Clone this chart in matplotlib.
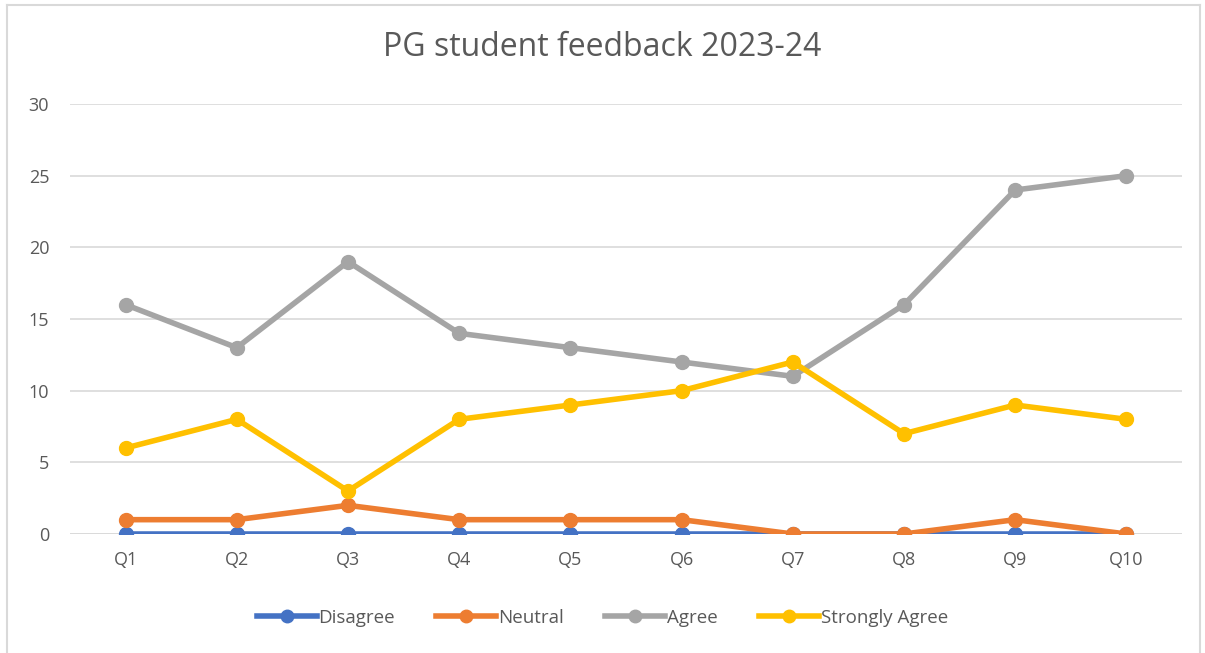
import matplotlib.pyplot as plt
from matplotlib.lines import Line2D

categories = ["Q1", "Q2", "Q3", "Q4", "Q5", "Q6", "Q7", "Q8", "Q9", "Q10"]
disagree = [0, 0, 0, 0, 0, 0, 0, 0, 0, 0]
neutral = [1, 1, 2, 1, 1, 1, 0, 0, 1, 0]
agree = [16, 13, 19, 14, 13, 12, 11, 16, 24, 25]
strongly_agree = [6, 8, 3, 8, 9, 10, 12, 7, 9, 8]
series_names = ["Disagree", "Neutral", "Agree", "Strongly Agree"]
colors = ["#4472C4", "#ED7D31", "#A5A5A5", "#FFC000"]
yticks = [0, 5, 10, 15, 20, 25, 30]

plt.rcParams['font.family'] = ['Open Sans', 'DejaVu Sans']
W, H = 1205, 653
fig = plt.figure(figsize=(W / 100, H / 100), dpi=100)
ax = fig.add_axes([70 / W, 1 - 534 / H, (1182 - 70) / W, (534 - 104) / H])

x = list(range(len(categories)))
handles = []
for vals, name, c in zip([disagree, neutral, agree, strongly_agree], series_names, colors):
    ax.plot(x, vals, color=c, lw=4, marker='o', ms=10, solid_capstyle='round', zorder=3)
    handles.append(Line2D([0], [0], color=c, lw=4, marker='o', ms=9))

ax.set_xlim(-0.5, len(categories) - 0.5)
ax.set_ylim(0, 30)
ax.set_yticks(yticks)
ax.set_xticks(x)
ax.set_xticklabels(categories)
ax.tick_params(axis='both', length=0, labelsize=13, labelcolor='#595959')
ax.tick_params(axis='x', pad=12)
ax.tick_params(axis='y', pad=15)
ax.grid(axis='y', color='#D9D9D9', lw=1.2, zorder=0)
for s in ax.spines.values():
    s.set_visible(False)
ax.axhline(0, color='#D9D9D9', lw=1.2, zorder=1)

fig.text(0.5, 1 - 47 / H, "PG student feedback 2023-24", ha='center', va='center',
         fontsize=23, color='#595959')

fig.legend(handles, series_names, loc='center', bbox_to_anchor=(0.5, 1 - 618 / H),
           ncol=4, frameon=False, fontsize=13.5, labelcolor='#595959',
           handlelength=3.2, handletextpad=0.1, columnspacing=2.2)

# chart border
fig.add_artist(Line2D([7 / W, 7 / W], [0, 1 - 5 / H], color='#D9D9D9', lw=1.5))
fig.add_artist(Line2D([7 / W, 1200 / W], [1 - 5 / H, 1 - 5 / H], color='#D9D9D9', lw=1.5))
fig.add_artist(Line2D([1200 / W, 1200 / W], [0, 1 - 5 / H], color='#D9D9D9', lw=1.5))

fig.savefig("out.png", dpi=100)
